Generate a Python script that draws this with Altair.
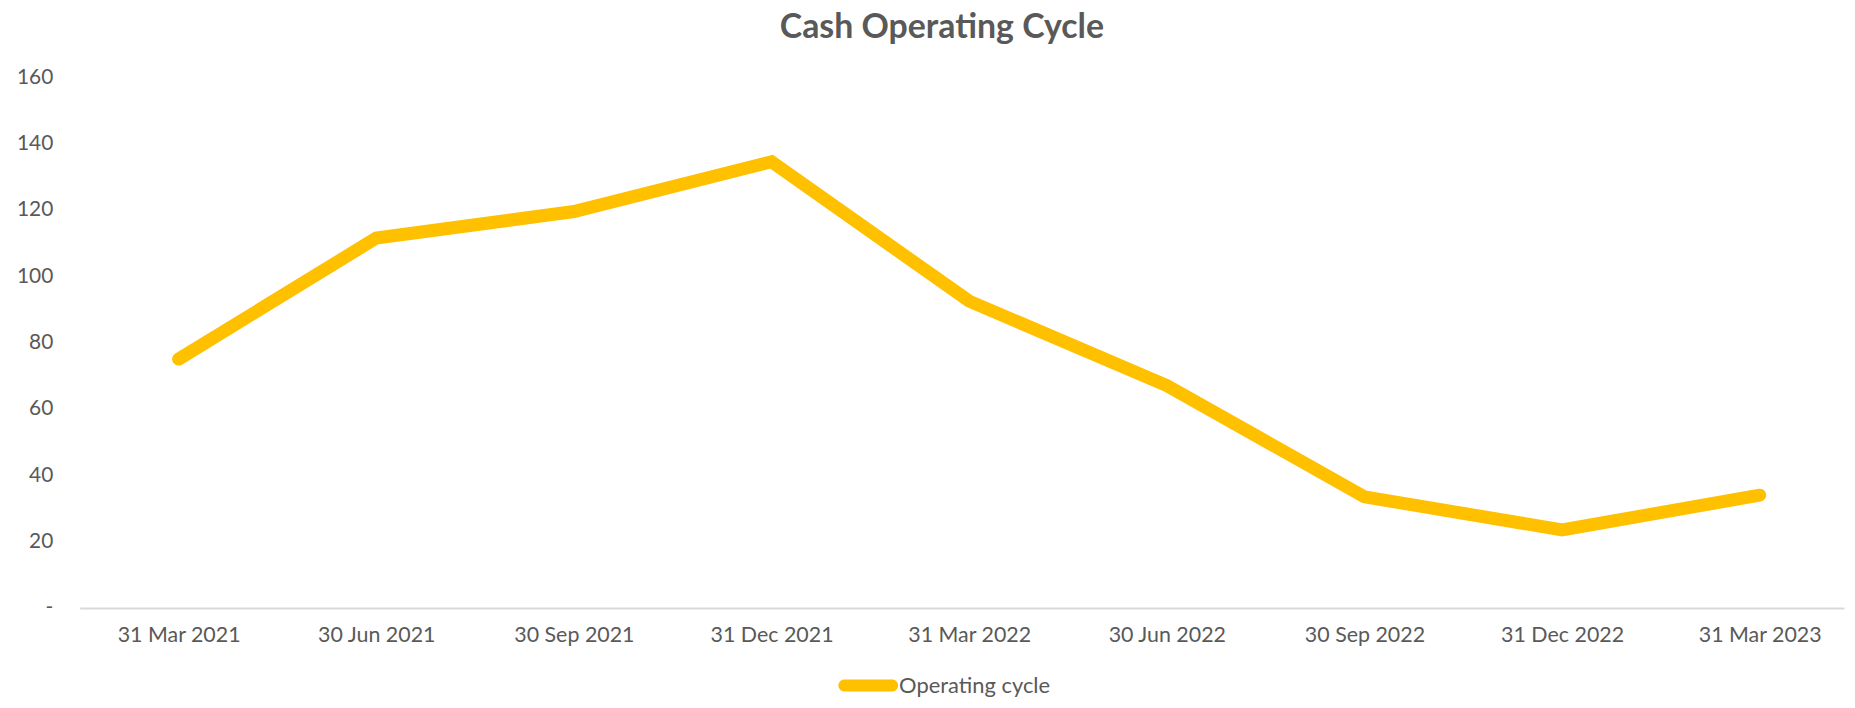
import altair as alt
import pandas as pd

periods = ["31 Mar 2021", "30 Jun 2021", "30 Sep 2021", "31 Dec 2021", "31 Mar 2022",
           "30 Jun 2022", "30 Sep 2022", "31 Dec 2022", "31 Mar 2023"]
operating_cycle = [75, 111.5, 119.5, 134.5, 92.5, 67, 33.5, 23.5, 34]
series_name = ["Operating cycle"] * len(periods)
y_ticks = [0, 20, 40, 60, 80, 100, 120, 140, 160]

df = pd.DataFrame({"Period": periods, "Value": operating_cycle, "Series": series_name})

FONT = "Lato"
GREY = "#595959"
GOLD = "#FFC000"

# capsule-shaped legend symbol (rounded line swatch)
CAPSULE = "M-0.8,-0.2L0.8,-0.2A0.2,0.2 0 0 1 0.8,0.2L-0.8,0.2A0.2,0.2 0 0 1 -0.8,-0.2Z"

line = alt.Chart(df).mark_line(
    strokeWidth=13, strokeCap="round", strokeJoin="miter"
).encode(
    x=alt.X("Period:N", sort=periods, title=None,
            scale=alt.Scale(type="point", padding=0.4635, align=0.54),
            axis=alt.Axis(labelAngle=0, labelFont=FONT, labelFontSize=21.5, labelColor=GREY,
                          labelPadding=17, ticks=False, domainColor="#d9d9d9",
                          domainWidth=2, grid=False)),
    y=alt.Y("Value:Q", title=None,
            scale=alt.Scale(domain=[0, 160], nice=False),
            axis=alt.Axis(values=y_ticks, labelFont=FONT, labelFontSize=21, labelColor=GREY,
                          labelPadding=27, ticks=False, domain=False, grid=False,
                          labelExpr="datum.value == 0 ? '-\u00a0\u00a0\u00a0' : datum.label")),
    color=alt.Color("Series:N", scale=alt.Scale(range=[GOLD]),
                    legend=alt.Legend(title=None, orient="none", legendX=762, legendY=581,
                                      symbolType=CAPSULE, symbolStrokeWidth=0,
                                      symbolFillColor=GOLD, symbolSize=3600,
                                      labelFont=FONT, labelFontSize=22,
                                      labelColor=GREY, labelOffset=1, padding=0,
                                      direction="horizontal"))
)

chart = line.properties(
    width=1772, height=533,
    title=alt.TitleParams("Cash Operating Cycle", font=FONT, fontSize=34, fontWeight="bold",
                          color=GREY, anchor="middle", dx=-20, offset=21),
    autosize=alt.AutoSizeParams(type="none"),
    padding={"left": 72, "top": 68, "right": 3, "bottom": 89},
).configure_view(stroke=None)

chart.save("out.html", embed_options={"renderer": "svg", "actions": False})
